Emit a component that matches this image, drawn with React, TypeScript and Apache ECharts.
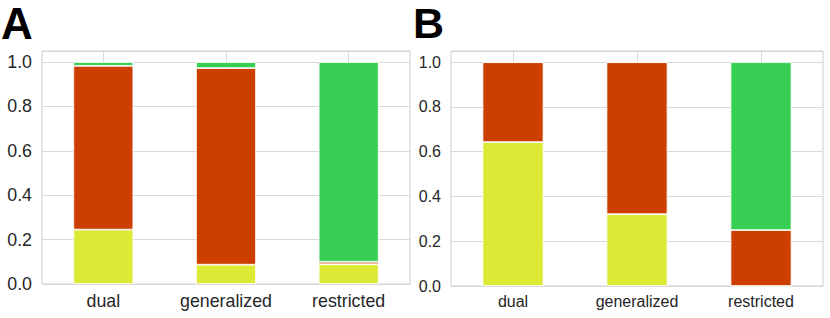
import React, { useEffect, useRef } from "react";
import * as echarts from "echarts";

const categories = ["dual", "generalized", "restricted"];
const yTicks = [0, 0.2, 0.4, 0.6, 0.8, 1.0];

// Panel A
const aYellow = [0.245, 0.087, 0.089];
const aRed = [0.738, 0.886, 0.011];
const aGreen = [0.017, 0.027, 0.9];

// Panel B
const bYellow = [0.643, 0.321, 0];
const bRed = [0.357, 0.679, 0.25];
const bGreen = [0, 0, 0.75];

const YELLOW = "#dce935";
const RED = "#cc3f00";
const GREEN = "#37cf53";
const FONT = "'Liberation Sans', Arial, sans-serif";

export default function App() {
  const ref = useRef<HTMLDivElement>(null);
  useEffect(() => {
    if (!ref.current) return;
    const chart = echarts.init(ref.current, null, { renderer: "svg" });
    const grids = [
      { left: 42, top: 51, width: 368, height: 233 },
      { left: 451, top: 51, width: 372, height: 235 },
    ];
    const fontSizes = [17.8, 16];
    const xMargins = [8, 7];
    const barWidths = [60, 61];
    const panels = [
      [aYellow, aRed, aGreen],
      [bYellow, bRed, bGreen],
    ];
    const colors = [YELLOW, RED, GREEN];
    const series: any[] = [];
    panels.forEach((vals, p) => {
      vals.forEach((arr, i) => {
        series.push({
          type: "bar",
          xAxisIndex: p,
          yAxisIndex: p,
          stack: "s" + p,
          barWidth: barWidths[p],
          data: arr,
          z: 3,
          itemStyle: { color: colors[i], borderColor: "#ffffff", borderWidth: 0.8 },
          ...(i === 0
            ? {
                markLine: {
                  z: 1,
                  silent: true,
                  symbol: "none",
                  label: { show: false },
                  lineStyle: { color: "#d9d9d9", width: 1, type: "solid" },
                  data: categories.map((c) => ({ xAxis: c })),
                },
              }
            : {}),
        });
      });
    });
    chart.setOption({
      animation: false,
      grid: grids.map((g) => ({
        ...g,
        show: true,
        borderColor: "#cccccc",
        borderWidth: 1,
        backgroundColor: "#ffffff",
        containLabel: false,
      })),
      xAxis: [0, 1].map((p) => ({
        type: "category",
        gridIndex: p,
        data: categories,
        axisLine: { show: false },
        axisTick: { show: false },
        splitLine: { show: false },
        axisLabel: {
          color: "#262626",
          fontFamily: FONT,
          fontSize: fontSizes[p],
          margin: xMargins[p],
        },
      })),
      yAxis: [0, 1].map((p) => ({
        type: "value",
        gridIndex: p,
        min: 0,
        max: 1.05,
        interval: 0.2,
        axisLine: { show: false },
        axisTick: { show: false },
        splitLine: { show: true, lineStyle: { color: "#d9d9d9", width: 1 } },
        axisLabel: {
          color: "#262626",
          fontFamily: FONT,
          fontSize: fontSizes[p],
          margin: 10,
          formatter: (v: number) =>
            yTicks.some((t) => Math.abs(t - v) < 1e-6) ? v.toFixed(1) : "",
        },
      })),
      series,
      graphic: [
        {
          type: "text",
          left: 1,
          top: 1,
          style: { text: "A", fontFamily: FONT, fontWeight: "bold", fontSize: 44, lineHeight: 44, fill: "#000000" },
        },
        {
          type: "text",
          left: 413,
          top: 1,
          style: { text: "B", fontFamily: FONT, fontWeight: "bold", fontSize: 43, lineHeight: 43, fill: "#000000" },
        },
      ],
    });
    return () => chart.dispose();
  }, []);
  return (
    <div
      ref={ref}
      style={{ position: "absolute", left: 0, top: 0, width: 830, height: 318, background: "#ffffff" }}
    />
  );
}
